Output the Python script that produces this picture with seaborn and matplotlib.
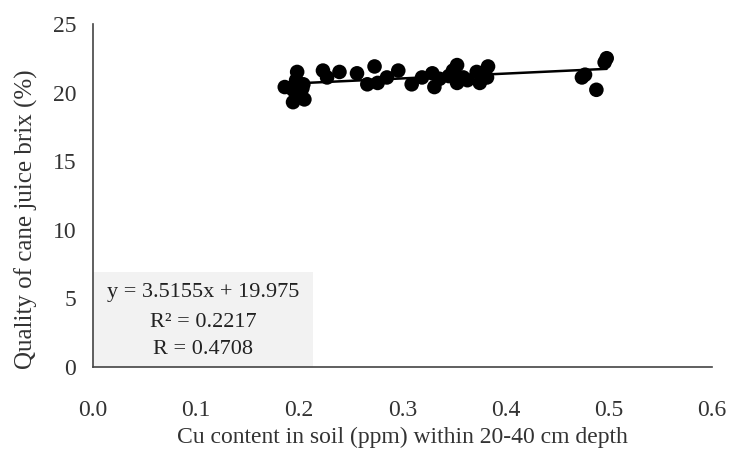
import numpy as np
import pandas as pd
import matplotlib
matplotlib.use("Agg")
import matplotlib.pyplot as plt
from matplotlib.patches import Rectangle
import seaborn as sns

# Cu content (ppm) and brix (%)
cu = [0.186, 0.198, 0.194, 0.203, 0.194, 0.205, 0.200, 0.197, 0.204,
      0.223, 0.227, 0.239, 0.256, 0.273, 0.266, 0.276, 0.285, 0.296,
      0.309, 0.319, 0.329, 0.331, 0.353, 0.353, 0.359, 0.372, 0.375,
      0.383, 0.382, 0.345, 0.349, 0.363, 0.336, 0.474, 0.477, 0.488,
      0.496, 0.498]
brix = [20.4, 21.5, 20.2, 20.3, 19.3, 19.5, 19.8, 20.9, 20.6,
        21.6, 21.1, 21.5, 21.4, 21.9, 20.6, 20.7, 21.1, 21.6,
        20.6, 21.1, 21.4, 20.4, 22.0, 20.7, 21.1, 21.5, 20.7,
        21.9, 21.1, 21.2, 21.6, 20.9, 21.0, 21.1, 21.3, 20.2,
        22.2, 22.5]

slope, intercept = 3.5155, 19.975
eq_lines = ["y = 3.5155x + 19.975", "R² = 0.2217", "R = 0.4708"]

x_ticks = [0.0, 0.1, 0.2, 0.3, 0.4, 0.5, 0.6]
y_ticks = [0, 5, 10, 15, 20, 25]

df = pd.DataFrame({"cu": cu, "brix": brix})

sns.set_style("white")
plt.rcParams["font.family"] = ["Liberation Serif", "DejaVu Serif"]

fig = plt.figure(figsize=(7.37, 4.51), dpi=100)
ax = fig.add_axes([0.126, 0.186, 0.840, 0.761])

sns.scatterplot(data=df, x="cu", y="brix", ax=ax, color="black",
                s=110, edgecolor="none", zorder=3)

xs = np.array([min(cu), max(cu)])
sns.lineplot(x=xs, y=slope * xs + intercept, ax=ax, color="black",
             linewidth=1.8, zorder=2)

ax.set_xlim(0, 0.6)
ax.set_ylim(0, 25)
ax.set_xticks(x_ticks)
ax.set_xticklabels([f"{t:.1f}" for t in x_ticks])
ax.set_yticks(y_ticks)
ax.tick_params(axis="both", labelsize=17, length=0, colors="#333333")
ax.tick_params(axis="x", pad=24)
ax.tick_params(axis="y", pad=12)

for side in ["top", "right"]:
    ax.spines[side].set_visible(False)
for side in ["left", "bottom"]:
    ax.spines[side].set_color("#444444")
    ax.spines[side].set_linewidth(1.2)

ax.set_xlabel("Cu content in soil (ppm) within 20-40 cm depth",
              fontsize=17, color="#333333", labelpad=4)
ax.set_ylabel("Quality of cane juice brix (%)", fontsize=18,
              color="#333333")
ax.yaxis.set_label_coords(-0.088, 0.43)

# equation box sitting in the lower-left corner of the axes
ax.add_patch(Rectangle((0, 0), 0.355, 0.277, transform=ax.transAxes,
                       facecolor="#f2f2f2", edgecolor="none", zorder=1))
for line, ypos in zip(eq_lines, [0.216, 0.130, 0.050]):
    ax.text(0.178, ypos, line, transform=ax.transAxes, ha="center",
            va="center", fontsize=16, color="#222222", zorder=2)

fig.savefig("out.png", dpi=100)
